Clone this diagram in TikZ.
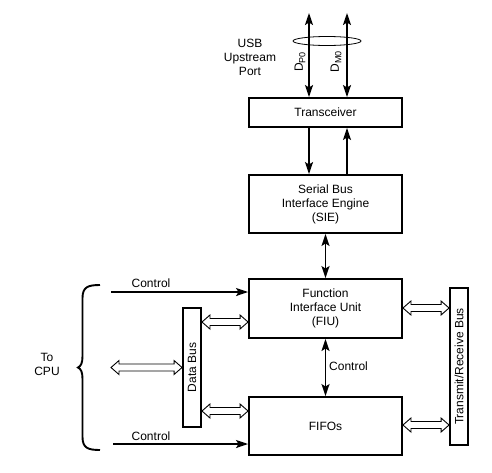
\documentclass[tikz,border=0pt]{standalone}
\usepackage{fontspec}
\setmainfont{Liberation Sans}
\usetikzlibrary{arrows.meta,calc}
\tikzset{
  box/.style={draw, line width=1.9pt, inner sep=0pt, align=center, font=\fontsize{12}{14}\selectfont},
  busbox/.style={draw, line width=1.9pt, inner sep=0pt, font=\fontsize{12}{14}\selectfont},
  lbl/.style={font=\fontsize{12}{14}\selectfont, align=center, inner sep=0pt},
  conn/.style={line width=1.8pt, -{Stealth[length=12pt,width=8pt,inset=2.5pt]}},
  dconn/.style={line width=1.8pt, {Stealth[length=12pt,width=8pt,inset=2.5pt]}-{Stealth[length=12pt,width=8pt,inset=2.5pt]}},
  hollow/.style={draw, line width=0.9pt, fill=white, line join=miter}
}
\newcommand\harrow[2]{%
  \draw[hollow] let \p1=#1, \p2=#2 in
   (\x1,\y1) -- (\x1+8pt,\y1+7pt) -- (\x1+8pt,\y1+3.5pt) -- (\x2-8pt,\y1+3.5pt)
   -- (\x2-8pt,\y1+7pt) -- (\x2,\y1) -- (\x2-8pt,\y1-7pt) -- (\x2-8pt,\y1-3.5pt)
   -- (\x1+8pt,\y1-3.5pt) -- (\x1+8pt,\y1-7pt) -- cycle;}
\begin{document}
\begin{tikzpicture}[x=1pt,y=-1pt]
\useasboundingbox[fill=white] (0,0) rectangle (492,472);
% boxes
\node[box, minimum width=153pt, minimum height=29pt] (trx) at (325.5,112.5) {Transceiver};
\node[box, minimum width=153pt, minimum height=58pt] (sie) at (325.5,204) {Serial Bus\\Interface Engine\\(SIE)};
\node[box, minimum width=153pt, minimum height=59pt] (fiu) at (325.5,308.5) {Function\\Interface Unit\\(FIU)};
\node[box, minimum width=153pt, minimum height=58pt] (fifo) at (325.5,426) {FIFOs};
\node[busbox, minimum width=18pt, minimum height=157pt] (trbus) at (459,366.5) {};
\node[lbl, rotate=90] (trlbl) at (trbus.center) {Transmit/Receive Bus};
\node[busbox, minimum width=18pt, minimum height=119pt] (dbus) at (192,367.5) {};
\node[lbl, rotate=90] (dblbl) at (dbus.center) {Data Bus};
% USB lines
\coordinate (dptop) at (309,13);
\coordinate (dmtop) at (347,13);
\draw[dconn] (dptop) -- (dptop |- trx.north);
\draw[dconn] (dmtop) -- (dmtop |- trx.north);
\draw[line width=0.8pt] (327,41) ellipse [x radius=34pt, y radius=4.5pt];
\node[lbl, rotate=90] (dplbl) at (300,62) {D\raisebox{-2.5pt}{\fontsize{9}{10}\selectfont P0}};
\node[lbl, rotate=90] (dmlbl) at (336,62) {D\raisebox{-2.5pt}{\fontsize{9}{10}\selectfont M0}};
\node[lbl] (usb) at (250,57) {USB\\Upstream\\Port};
% transceiver <-> SIE
\draw[conn] (dptop |- trx.south) -- (dptop |- sie.north);
\draw[conn] (dmtop |- sie.north) -- (dmtop |- trx.south);
\draw[dconn] (sie.south) -- (fiu.north);
\draw[dconn] (fiu.south) -- (fifo.north);
\node[lbl, anchor=west] (ctl3) at (329,366) {Control};
% control from CPU
\coordinate (c1) at (111,292);
\coordinate (c2) at (113,444);
\draw[conn] (c1) -- (c1 -| fiu.west);
\draw[conn] (c2) -- (c2 -| fifo.west);
\node[lbl] (ctl1) at (151,283) {Control};
\node[lbl] (ctl2) at (151,436) {Control};
% hollow arrows
\coordinate (h1) at (0,322);
\coordinate (h2) at (0,411);
\coordinate (h3) at (0,367.5);
\coordinate (h4) at (0,308);
\coordinate (h5) at (0,425);
\coordinate (hl) at (111,367.5);
\harrow{(h1 -| dbus.east)}{(h1 -| fiu.west)}
\harrow{(h2 -| dbus.east)}{(h2 -| fifo.west)}
\harrow{(hl)}{(h3 -| dbus.west)}
\harrow{(h4 -| fiu.east)}{(h4 -| trbus.west)}
\harrow{(h5 -| fifo.east)}{(h5 -| trbus.west)}
% brace
\draw[line width=1.9pt] (100,285) .. controls (88,285) and (82.5,287) .. (82.5,298)
  -- (82.5,356) .. controls (82.5,363) and (81,366) .. (78,367.5)
  .. controls (81,369) and (82.5,372) .. (82.5,379)
  -- (82.5,437) .. controls (82.5,448) and (88,450) .. (100,450);
\node[lbl] (cpu) at (47,364) {To\\CPU};
\end{tikzpicture}
\end{document}
